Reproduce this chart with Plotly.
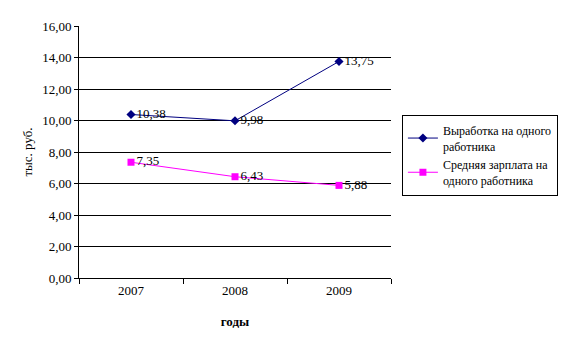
import plotly.graph_objects as go

years = ["2007", "2008", "2009"]
output_per_worker = [10.38, 9.98, 13.75]
avg_salary = [7.35, 6.43, 5.88]
series_names = ["Выработка на одного<br>работника", "Средняя зарплата на<br>одного работника"]

font_family = "'Liberation Serif', 'DejaVu Serif', serif"


def fmt(v):
    return f"{v:.2f}".replace(".", ",")


fig = go.Figure()
fig.add_trace(go.Scatter(
    x=years, y=output_per_worker, name=series_names[0],
    mode="lines+markers+text",
    line=dict(color="#000080", width=1),
    marker=dict(symbol="diamond", size=7, color="#000080"),
    text=[fmt(v) for v in output_per_worker],
    textposition="middle right",
    cliponaxis=False,
    textfont=dict(family=font_family, size=13, color="black"),
))
fig.add_trace(go.Scatter(
    x=years, y=avg_salary, name=series_names[1],
    mode="lines+markers+text",
    line=dict(color="#FF00FF", width=1),
    marker=dict(symbol="square", size=7, color="#FF00FF"),
    text=[fmt(v) for v in avg_salary],
    textposition="middle right",
    cliponaxis=False,
    textfont=dict(family=font_family, size=13, color="black"),
))

fig.update_layout(
    width=569, height=348,
    margin=dict(l=79, r=178, t=26, b=70, autoexpand=False),
    paper_bgcolor="white", plot_bgcolor="white",
    separators=", ",
    font=dict(family=font_family, size=13, color="black"),
    showlegend=True,
    legend=dict(
        x=1.035, y=0.647, xanchor="left", yanchor="top",
        bordercolor="black", borderwidth=1, bgcolor="white",
        font=dict(family=font_family, size=12, color="black"),
        itemwidth=30,
        tracegroupgap=0,
    ),
    xaxis=dict(
        type="category",
        range=[-0.5, 2.5],
        showline=True, linecolor="black", linewidth=1,
        showgrid=False,
        ticks="outside", ticklen=5, tickcolor="black",
        tickson="boundaries",
        title=dict(text="<b>годы</b>", font=dict(family=font_family, size=13), standoff=20),
        tickfont=dict(family=font_family, size=13),
    ),
    yaxis=dict(
        range=[0, 16], dtick=2, tickformat=".2f",
        showline=True, linecolor="black", linewidth=1,
        showgrid=True, gridcolor="black", gridwidth=1,
        ticks="outside", ticklen=4, tickcolor="black",
        zeroline=False,
        title=dict(text="тыс. руб.", font=dict(family=font_family, size=13), standoff=6),
        tickfont=dict(family=font_family, size=13),
    ),
)

fig.write_html("out.html")
